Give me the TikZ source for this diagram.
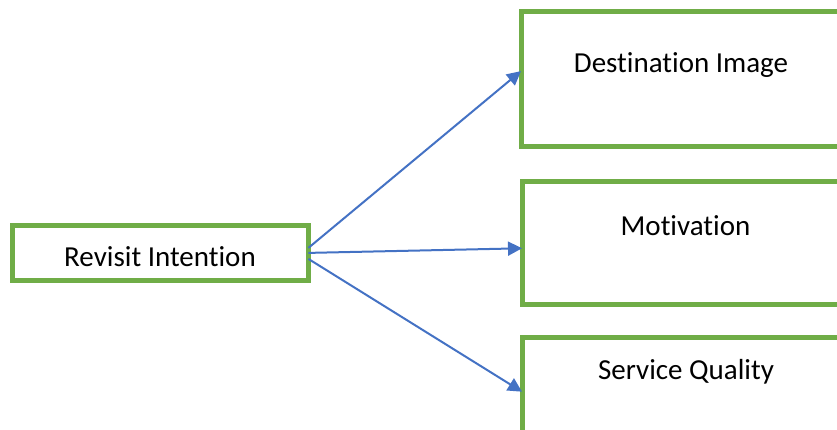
\documentclass[tikz,border=0pt]{standalone}
\usepackage{fontspec}
\setmainfont{Carlito}[Ligatures=NoCommon]
\usepackage{tikz}
\usetikzlibrary{arrows.meta,positioning}

\definecolor{boxgreen}{HTML}{70AD47}
\definecolor{arrowblue}{HTML}{4472C4}

\begin{document}
\begin{tikzpicture}[
            x=1pt, y=-1pt,
            box/.style={draw=boxgreen,line width=5pt,rectangle,inner sep=0pt,outer sep=0pt},
            factor/.style={box,minimum width=379pt},
            txt/.style={font=\fontsize{29}{35}\selectfont,inner sep=0pt,anchor=base},
            link/.style={draw=arrowblue,line width=2pt,->},
            >={Triangle[length=14pt,width=14pt]}
        ]
        \useasboundingbox (0,0) rectangle (837,430);
        \clip (0,0) rectangle (837,430);

        % Draw source %
        \node[box,minimum width=296pt,minimum height=55pt] (ri) at (160.4,252.9) {};
        \node[txt] (riT) at (160,266) {Revisit Intention};

        % Draw factors %
        \node[factor,minimum height=135pt] (di) at (710.5,79.1) {};
        \node[factor,minimum height=123pt] (mo) at (711.5,242.7) {};
        \node[factor,minimum height=108.5pt] (sq) at (711.5,391.7) {};
        \node[txt] (diT) at (681,73) {Destination Image};
        \node[txt] (moT) at (685.5,235.7) {Motivation};
        \node[txt] (sqT) at (686,379.3) {Service Quality};

        % Draw arrows %
        \draw[link] ([yshift=5pt]ri.east) -- ([yshift=8pt]di.west);
        \draw[link] (ri.east) -- ([yshift=-5.6pt]mo.west);
        \draw[link] ([yshift=-6pt]ri.east) -- (sq.west);
\end{tikzpicture}
\end{document}
